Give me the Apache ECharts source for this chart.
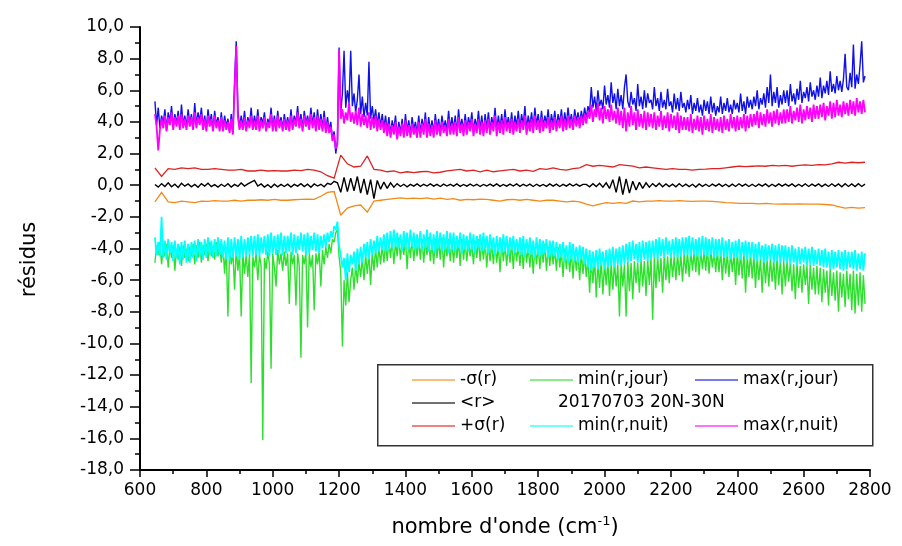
<!DOCTYPE html>
<html>
<head>
<meta charset="utf-8">
<script src="https://cdn.jsdelivr.net/npm/echarts@6/dist/echarts.min.js"></script>
<style>html,body{margin:0;padding:0;background:#fff}#c{width:902px;height:546px}</style>
</head>
<body>
<div id="c"></div>
<script>
// Sampling grid (wavenumber, cm-1)
const WN_START = 645;
const STEP_FINE = 5;    // min/max envelopes
const STEP_MID = 10;    // mean residual
const STEP_COARSE = 20; // sigma series

const xTicks = [600, 800, 1000, 1200, 1400, 1600, 1800, 2000, 2200, 2400, 2600, 2800];
const yTicks = [-18, -16, -14, -12, -10, -8, -6, -4, -2, 0, 2, 4, 6, 8, 10];

const maxJour = [
 5.3,3.8,4.9,3.6,4.4,3.9,4.8,3.5,4.6,4.0,5.0,3.7,4.5,3.9,4.7,3.6,5.1,3.8,4.4,3.7,
 4.8,3.9,4.5,3.6,5.2,3.8,4.6,4.0,4.9,3.7,4.4,3.6,4.8,3.9,4.5,3.5,4.7,3.8,4.3,3.6,
 4.6,3.5,4.4,3.7,4.2,3.4,4.5,3.3,6.5,9.1,4.8,3.6,4.4,3.7,4.7,3.5,4.3,3.8,4.9,3.6,
 4.4,3.7,4.8,3.6,4.3,3.9,4.6,3.5,4.2,3.8,4.9,3.6,4.4,3.5,4.7,3.8,4.3,3.6,4.5,3.7,
 4.3,3.6,4.8,3.7,4.4,3.9,5.0,3.8,4.5,3.6,4.7,3.9,4.4,3.7,4.9,3.8,4.6,3.5,4.8,3.7,
 4.5,3.6,4.7,3.4,4.3,3.5,4.0,2.9,3.4,2.0,2.8,8.7,4.6,5.8,8.5,4.9,6.0,5.2,8.5,5.0,
 5.8,4.6,5.4,7.0,4.5,5.6,4.3,5.2,4.4,7.8,4.2,5.0,4.0,4.8,3.8,4.6,3.7,4.5,3.6,4.4,
 3.4,4.3,3.2,4.1,3.5,4.4,3.1,4.0,3.3,4.2,3.2,4.5,3.4,4.1,3.2,4.3,3.5,4.0,3.3,4.4,
 3.3,4.2,3.5,4.6,3.2,4.3,3.4,4.1,3.3,4.5,3.5,4.2,3.3,4.4,3.6,4.1,3.4,4.7,3.5,4.3,
 3.5,4.4,3.3,4.8,3.6,4.2,3.4,4.5,3.5,4.3,3.7,4.6,3.4,4.2,3.6,4.7,3.5,4.4,3.3,4.5,
 3.6,4.6,3.5,4.3,3.7,4.9,3.4,4.4,3.6,4.5,3.5,4.8,3.7,4.3,3.6,4.6,3.5,4.4,3.7,4.7,
 3.6,4.5,3.8,5.0,3.5,4.4,3.7,4.6,3.6,4.9,3.8,4.5,3.6,4.7,3.7,4.4,3.9,4.8,3.6,4.5,
 3.8,4.7,3.6,4.5,3.9,4.8,3.7,4.6,3.8,4.9,3.9,4.5,3.7,4.8,4.0,4.6,3.9,4.7,4.1,4.9,
 4.2,5.0,4.6,6.2,4.9,5.6,4.7,6.0,5.0,5.4,4.8,6.3,5.1,5.7,4.9,6.5,5.2,5.8,4.8,6.1,
 5.0,5.7,4.8,6.2,7.0,5.3,4.9,5.9,5.1,5.5,4.7,6.4,5.0,5.6,4.8,6.0,4.9,5.8,5.2,5.4,
 4.8,6.2,5.0,5.5,4.7,5.9,4.9,5.4,4.8,6.1,5.0,5.3,4.6,5.8,4.8,5.5,4.7,5.9,4.9,5.2,
 4.6,5.4,4.8,5.7,4.5,5.2,4.7,5.5,4.6,5.1,4.4,5.4,4.7,5.3,4.5,5.6,4.6,5.2,4.4,5.0,
 4.6,5.6,4.5,5.2,4.7,5.5,4.6,5.1,4.5,5.4,4.8,5.2,4.6,5.8,4.7,5.3,4.5,5.6,4.9,5.4,
 4.8,5.6,5.0,6.0,4.8,5.5,5.1,5.8,4.9,6.2,5.2,7.0,5.0,5.9,5.2,6.2,4.9,5.7,5.1,6.0,
 5.2,6.0,5.0,6.4,5.3,5.8,5.1,6.1,5.4,6.6,5.2,5.9,5.5,6.2,5.3,6.5,5.6,6.0,5.4,6.3,
 5.6,6.8,5.5,6.3,5.8,6.6,5.7,7.2,5.9,6.4,5.8,6.9,6.0,6.6,5.9,6.7,8.3,6.2,6.0,7.1,
 6.2,8.9,6.1,7.0,6.4,7.6,9.1,6.5,6.9
];

const maxNuit = [
 4.5,3.7,2.2,3.5,4.2,3.6,4.4,3.4,4.3,3.8,4.6,3.5,4.3,3.7,4.4,3.5,4.5,3.6,4.2,3.5,
 4.4,3.7,4.3,3.5,4.6,3.6,4.3,3.8,4.5,3.5,4.2,3.4,4.4,3.7,4.2,3.4,4.4,3.6,4.1,3.4,
 4.3,3.4,4.1,3.5,4.0,3.3,4.2,3.2,6.0,8.8,4.3,3.5,4.1,3.5,4.3,3.4,4.1,3.6,4.4,3.5,
 4.1,3.5,4.4,3.4,4.1,3.6,4.3,3.4,4.0,3.6,4.5,3.4,4.2,3.4,4.4,3.6,4.1,3.4,4.2,3.5,
 4.1,3.4,4.4,3.5,4.2,3.7,4.6,3.6,4.2,3.4,4.4,3.7,4.2,3.5,4.5,3.6,4.3,3.4,4.4,3.5,
 4.2,3.4,4.3,3.3,4.0,3.3,3.7,2.8,3.2,2.3,2.6,8.6,4.2,4.8,3.9,4.6,4.1,5.2,4.0,4.6,
 3.9,4.7,3.8,4.9,3.7,4.5,3.8,4.4,3.6,4.6,3.5,4.3,3.6,4.4,3.4,4.2,3.5,4.1,3.3,4.0,
 3.1,3.9,3.0,3.8,3.2,4.0,2.9,3.7,3.1,3.9,3.0,4.1,3.1,3.8,3.0,3.9,3.2,3.7,3.0,4.0,
 3.0,3.9,3.2,4.2,3.0,3.9,3.1,3.8,3.0,4.1,3.2,3.9,3.1,4.0,3.3,3.8,3.1,4.2,3.2,3.9,
 3.2,4.0,3.1,4.3,3.3,3.9,3.1,4.1,3.2,4.0,3.4,4.2,3.1,3.9,3.3,4.2,3.2,4.0,3.1,4.1,
 3.3,4.2,3.2,4.0,3.4,4.4,3.1,4.0,3.3,4.1,3.2,4.3,3.4,4.0,3.3,4.2,3.2,4.0,3.4,4.2,
 3.3,4.1,3.5,4.4,3.2,4.0,3.4,4.2,3.3,4.4,3.5,4.1,3.3,4.3,3.4,4.0,3.6,4.3,3.3,4.1,
 3.5,4.3,3.4,4.1,3.6,4.4,3.4,4.2,3.5,4.4,3.6,4.2,3.5,4.4,3.7,4.3,3.6,4.4,3.8,4.5,
 3.9,4.7,4.2,5.1,4.0,4.8,4.3,5.2,4.1,4.9,3.9,5.0,4.2,4.8,4.0,5.1,4.1,4.7,3.9,4.9,
 3.8,4.7,3.6,4.9,3.4,4.6,3.7,5.0,3.8,4.6,3.5,4.8,3.7,4.5,3.6,4.7,3.5,4.6,3.7,4.5,
 3.6,4.6,3.5,4.4,3.7,4.7,3.5,4.4,3.6,4.6,3.4,4.5,3.6,4.4,3.5,4.6,3.3,4.4,3.5,4.3,
 3.5,4.3,3.4,4.5,3.3,4.2,3.5,4.4,3.4,4.3,3.2,4.4,3.5,4.2,3.4,4.5,3.3,4.3,3.5,4.2,
 3.4,4.3,3.3,4.4,3.5,4.2,3.4,4.5,3.6,4.3,3.4,4.4,3.5,4.3,3.6,4.5,3.4,4.4,3.6,4.5,
 3.7,4.5,3.8,4.7,3.6,4.6,3.8,4.5,3.7,4.8,3.9,4.6,3.7,4.7,3.9,4.8,3.8,4.6,3.9,4.8,
 3.9,4.8,4.0,5.0,3.9,4.7,4.1,4.9,4.0,5.1,3.9,4.8,4.1,5.0,4.2,4.9,4.0,5.1,4.2,5.0,
 4.2,5.1,4.3,5.2,4.1,5.0,4.4,5.3,4.2,5.2,4.3,5.4,4.4,5.1,4.3,5.3,4.5,5.2,4.4,5.4,
 4.5,5.3,4.4,5.5,4.6,5.3,4.5,5.4,4.6
];

const minJour = [
 -4.9,-3.8,-4.4,-3.6,-5.0,-4.0,-4.5,-3.7,-5.2,-3.9,-4.6,-3.8,-5.4,-4.1,-4.7,-3.9,-5.1,-3.8,-4.6,-4.0,
 -4.8,-3.9,-4.5,-3.7,-5.0,-3.8,-4.6,-3.6,-4.9,-3.8,-4.4,-3.7,-4.8,-3.6,-4.5,-3.8,-4.7,-3.6,-4.5,-3.7,
 -4.9,-3.8,-5.6,-3.9,-8.3,-4.1,-5.0,-4.2,-6.6,-4.0,-5.4,-4.3,-8.3,-4.2,-5.6,-4.4,-5.8,-4.3,-12.5,-4.5,
 -5.2,-4.3,-6.0,-4.4,-5.1,-16.1,-4.6,-5.3,-4.2,-5.0,-11.6,-4.3,-5.2,-6.4,-4.1,-5.0,-4.3,-5.4,-4.2,-5.1,
 -4.3,-7.5,-4.2,-5.0,-4.4,-7.6,-4.3,-5.1,-10.9,-4.4,-5.0,-4.2,-9.0,-4.3,-5.2,-4.4,-7.9,-4.3,-5.0,-4.2,
 -6.4,-4.1,-5.0,-3.9,-4.6,-3.7,-4.3,-3.4,-3.6,-3.0,-2.8,-4.5,-5.5,-10.2,-6.0,-7.6,-5.5,-7.4,-6.0,-5.2,
 -6.6,-5.0,-6.2,-4.8,-5.8,-4.6,-6.0,-4.4,-5.6,-4.3,-6.3,-4.2,-5.4,-4.0,-5.2,-3.9,-5.0,-3.8,-4.9,-3.7,
 -4.8,-3.5,-4.6,-3.4,-5.0,-3.6,-4.5,-3.3,-4.7,-3.5,-4.4,-3.4,-5.3,-3.5,-4.6,-3.3,-4.8,-3.6,-4.5,-3.4,
 -4.7,-3.4,-4.9,-3.5,-4.4,-3.3,-4.8,-3.6,-5.0,-3.4,-4.6,-3.5,-4.7,-3.3,-5.2,-3.6,-4.5,-3.4,-4.8,-3.5,
 -4.9,-3.6,-4.6,-3.5,-5.1,-3.4,-4.7,-3.6,-4.8,-3.5,-4.5,-3.7,-5.0,-3.5,-4.6,-3.4,-4.8,-3.6,-4.7,-3.5,
 -5.2,-3.7,-4.8,-3.6,-5.0,-3.7,-4.9,-3.8,-5.5,-3.6,-4.8,-3.7,-5.1,-3.8,-4.9,-3.6,-5.3,-3.7,-4.8,-3.8,
 -5.1,-3.8,-5.3,-3.7,-4.9,-3.9,-5.2,-3.8,-5.6,-3.9,-5.0,-3.8,-5.3,-3.9,-4.9,-3.7,-5.4,-3.9,-5.1,-3.8,
 -5.0,-4.0,-5.4,-3.9,-5.2,-4.1,-5.8,-4.0,-5.3,-4.2,-5.5,-4.1,-5.9,-4.2,-5.4,-4.3,-6.0,-4.2,-5.6,-4.4,
 -5.8,-4.5,-6.8,-4.7,-6.2,-4.6,-7.1,-4.8,-6.5,-4.7,-6.9,-4.9,-6.3,-4.8,-7.0,-4.9,-6.6,-4.8,-6.4,-5.0,
 -8.3,-4.9,-6.4,-5.0,-8.3,-4.8,-6.7,-4.9,-7.2,-4.8,-6.2,-4.9,-6.8,-4.7,-6.4,-4.8,-7.0,-4.7,-6.3,-4.6,
 -8.5,-4.6,-6.5,-4.5,-6.1,-4.6,-6.8,-4.4,-6.0,-4.5,-6.2,-4.4,-5.8,-4.5,-6.0,-4.3,-5.7,-4.4,-6.1,-4.3,
 -5.6,-4.2,-5.8,-4.1,-5.4,-4.2,-5.5,-4.0,-5.7,-4.1,-5.3,-4.2,-5.4,-4.0,-5.6,-4.1,-5.2,-4.2,-5.5,-4.1,
 -5.5,-4.1,-6.0,-4.2,-5.6,-4.3,-5.8,-4.2,-5.5,-4.3,-6.3,-4.2,-5.7,-4.3,-5.9,-4.2,-6.8,-4.4,-5.8,-4.3,
 -5.9,-4.4,-6.5,-4.5,-6.0,-4.6,-6.8,-4.5,-6.2,-4.7,-6.4,-4.6,-6.1,-4.7,-6.6,-4.5,-6.3,-4.7,-6.9,-4.8,
 -6.4,-4.8,-6.1,-4.9,-6.7,-5.0,-7.2,-4.9,-6.5,-5.1,-6.8,-5.0,-6.3,-5.1,-7.5,-5.0,-6.6,-5.2,-6.9,-5.1,
 -6.9,-5.2,-7.4,-5.3,-6.8,-5.4,-7.6,-5.3,-7.0,-5.5,-7.3,-5.4,-8.0,-5.5,-7.1,-5.6,-7.7,-5.4,-7.2,-5.6,
 -7.9,-5.4,-8.1,-5.6,-7.6,-5.5,-8.0,-5.7,-7.5
];

const minNuit = [
 -3.3,-4.4,-3.6,-4.5,-2.0,-4.6,-3.5,-4.7,-3.4,-4.3,-3.6,-4.8,-3.5,-4.6,-3.7,-5.0,-3.6,-4.7,-3.5,-4.9,
 -3.7,-4.9,-3.6,-4.6,-3.5,-4.8,-3.4,-4.5,-3.6,-4.7,-3.4,-4.6,-3.3,-4.4,-3.5,-4.6,-3.4,-4.5,-3.3,-4.4,
 -3.4,-4.6,-3.5,-4.7,-3.3,-4.8,-3.4,-4.6,-3.3,-4.5,-3.4,-4.7,-3.2,-4.6,-3.4,-4.5,-3.3,-4.4,-3.2,-4.5,
 -3.2,-4.4,-3.1,-4.5,-3.3,-4.3,-3.2,-4.4,-3.1,-4.5,-3.0,-4.3,-3.2,-4.4,-3.1,-4.3,-3.0,-4.4,-3.2,-4.3,
 -3.2,-4.2,-3.0,-4.4,-3.1,-4.3,-3.2,-4.1,-3.0,-4.2,-3.1,-4.4,-3.0,-4.3,-3.2,-4.1,-3.0,-4.2,-3.1,-4.3,
 -3.2,-4.0,-3.1,-3.9,-3.0,-3.6,-2.9,-3.3,-2.6,-2.8,-2.3,-3.8,-4.4,-5.2,-4.6,-6.0,-4.3,-5.5,-4.4,-5.0,
 -4.2,-5.4,-4.0,-5.0,-3.9,-4.9,-3.7,-4.6,-3.6,-4.7,-3.4,-4.4,-3.5,-4.3,-3.2,-4.2,-3.3,-4.1,-3.1,-4.2,
 -3.0,-4.1,-2.9,-4.0,-2.8,-3.9,-3.0,-4.0,-3.1,-4.2,-2.9,-4.0,-3.0,-4.1,-2.8,-3.9,-3.0,-4.1,-3.1,-4.0,
 -2.9,-4.1,-3.1,-4.0,-2.8,-4.2,-3.0,-4.1,-3.1,-4.3,-2.9,-4.0,-3.0,-4.2,-3.1,-4.1,-2.9,-4.3,-3.0,-4.1,
 -3.0,-4.2,-3.2,-4.0,-3.0,-4.3,-3.1,-4.1,-3.2,-4.2,-3.0,-4.1,-3.1,-4.3,-3.2,-4.0,-3.1,-4.2,-3.0,-4.1,
 -3.2,-4.3,-3.1,-4.1,-3.3,-4.4,-3.2,-4.2,-3.3,-4.3,-3.1,-4.2,-3.2,-4.4,-3.3,-4.1,-3.2,-4.3,-3.4,-4.2,
 -3.3,-4.4,-3.2,-4.5,-3.4,-4.3,-3.3,-4.4,-3.5,-4.6,-3.3,-4.4,-3.4,-4.5,-3.5,-4.3,-3.4,-4.6,-3.5,-4.5,
 -3.5,-4.5,-3.6,-4.7,-3.7,-4.6,-3.6,-4.8,-3.8,-4.9,-3.6,-4.7,-3.7,-4.8,-3.9,-4.9,-3.8,-4.7,-3.9,-5.0,
 -4.0,-5.2,-4.1,-5.4,-4.2,-5.2,-4.1,-5.3,-4.0,-5.1,-4.2,-5.3,-4.1,-5.2,-4.0,-5.1,-3.9,-5.2,-4.0,-5.0,
 -3.9,-5.1,-3.8,-5.0,-3.7,-4.9,-3.6,-4.8,-3.5,-4.7,-3.7,-4.9,-3.6,-4.8,-3.5,-4.7,-3.6,-4.8,-3.5,-4.7,
 -3.5,-4.6,-3.4,-4.7,-3.3,-4.5,-3.4,-4.6,-3.3,-4.4,-3.5,-4.6,-3.4,-4.5,-3.3,-4.6,-3.4,-4.5,-3.3,-4.4,
 -3.3,-4.4,-3.2,-4.5,-3.3,-4.4,-3.4,-4.5,-3.3,-4.5,-3.2,-4.4,-3.3,-4.5,-3.4,-4.4,-3.3,-4.6,-3.4,-4.5,
 -3.4,-4.5,-3.3,-4.6,-3.5,-4.5,-3.4,-4.7,-3.6,-4.6,-3.5,-4.6,-3.4,-4.7,-3.6,-4.5,-3.5,-4.7,-3.6,-4.6,
 -3.6,-4.7,-3.7,-4.8,-3.6,-4.7,-3.8,-4.9,-3.7,-4.8,-3.8,-4.7,-3.7,-4.9,-3.8,-4.8,-3.7,-4.9,-3.8,-4.8,
 -3.8,-4.9,-3.9,-5.0,-3.8,-4.9,-4.0,-5.1,-3.9,-5.0,-4.0,-4.9,-3.9,-5.1,-4.0,-5.0,-3.9,-5.1,-4.1,-5.0,
 -4.0,-5.1,-4.1,-5.2,-4.0,-5.2,-4.2,-5.3,-4.1,-5.3,-4.2,-5.2,-4.1,-5.3,-4.2,-5.4,-4.1,-5.3,-4.2,-5.2,
 -4.2,-5.3,-4.1,-5.4,-4.3,-5.3,-4.2,-5.4,-4.3
];

const meanR = [
 0.05,-0.12,0.10,-0.08,0.15,-0.10,0.06,-0.14,0.12,-0.06,
 0.08,-0.10,0.05,-0.13,0.10,-0.05,0.12,-0.09,0.04,-0.12,
 0.06,-0.08,0.10,-0.11,0.05,-0.07,0.14,-0.05,0.08,0.20,
 0.30,-0.05,0.08,-0.12,0.04,-0.15,0.06,-0.10,0.05,-0.08,
 0.07,-0.12,0.05,-0.06,0.10,-0.09,0.06,-0.13,0.08,-0.05,
 0.06,-0.10,0.12,0.05,0.25,0.15,-0.45,0.50,-0.40,0.45,
 -0.35,0.55,-0.50,0.40,-0.60,0.35,-0.85,0.30,-0.25,0.20,
 -0.20,0.15,-0.12,0.10,-0.08,0.06,-0.10,0.05,-0.06,0.08,
 -0.07,0.06,-0.05,0.08,-0.06,0.05,-0.08,0.07,-0.05,0.06,
 -0.06,0.08,-0.07,0.05,-0.06,0.07,-0.05,0.06,-0.08,0.05,
 -0.05,0.07,-0.06,0.08,-0.07,0.05,-0.06,0.07,-0.05,0.08,
 -0.07,0.06,-0.05,0.07,-0.08,0.06,-0.06,0.05,-0.07,0.08,
 -0.06,0.07,-0.08,0.05,-0.06,0.08,-0.05,0.07,-0.06,0.05,
 0.05,-0.10,0.10,-0.08,0.12,-0.12,0.15,-0.20,0.35,-0.45,
 0.55,-0.60,0.40,-0.50,0.25,-0.30,0.18,-0.20,0.15,-0.12,
 0.10,-0.08,0.12,-0.10,0.08,-0.09,0.07,-0.10,0.09,-0.08,
 0.07,-0.09,0.06,-0.12,0.08,-0.07,0.06,-0.08,0.07,-0.06,
 0.08,-0.07,0.06,-0.09,0.07,-0.08,0.09,-0.06,0.07,-0.08,
 0.06,-0.08,0.07,-0.06,0.08,-0.09,0.06,-0.07,0.08,-0.06,
 0.07,-0.06,0.08,-0.09,0.06,-0.07,0.09,-0.08,0.07,-0.06,
 0.08,-0.09,0.07,-0.08,0.09,-0.07,0.08,-0.10,0.09,-0.08,
 0.08,-0.09,0.10,-0.08,0.07
];

const plusSigma = [
 1.1,0.55,1.05,1.0,1.1,
 1.05,1.1,1.0,1.0,1.05,
 1.0,0.95,0.95,1.0,0.9,
 0.9,0.95,0.9,0.92,0.9,
 0.9,0.95,0.92,1.0,0.95,
 0.85,0.6,0.45,1.9,1.35,
 1.15,1.2,1.85,1.0,0.95,
 0.85,0.9,0.78,0.85,0.8,
 0.85,0.88,0.78,0.82,0.9,
 0.95,1.0,0.9,0.95,0.85,
 0.95,0.85,0.9,0.95,1.0,
 0.9,0.95,0.88,1.05,1.0,
 1.1,1.0,0.95,1.05,1.1,
 1.3,1.2,1.25,1.2,1.15,
 1.3,1.25,1.2,1.1,1.15,
 1.1,1.05,1.0,1.05,1.0,
 1.0,0.95,1.0,1.02,1.05,
 1.05,1.1,1.15,1.2,1.18,
 1.2,1.22,1.2,1.25,1.22,
 1.25,1.2,1.25,1.28,1.25,
 1.3,1.28,1.35,1.45,1.4,
 1.45,1.42,1.45
];

const minusSigma = [
 -1.05,-0.45,-1.05,-1.1,-1.0,
 -1.05,-1.1,-1.0,-1.02,-0.98,
 -1.0,-1.0,-0.95,-1.0,-0.95,
 -0.95,-0.92,-0.95,-0.9,-0.95,
 -0.95,-0.92,-0.9,-0.88,-0.9,
 -0.7,-0.45,-0.4,-1.9,-1.45,
 -1.3,-1.25,-1.7,-1.0,-0.95,
 -0.9,-0.85,-0.8,-0.85,-0.82,
 -0.85,-0.8,-0.88,-0.82,-0.9,
 -0.85,-0.95,-0.9,-0.92,-0.88,
 -0.9,-0.95,-1.0,-0.92,-0.9,
 -0.95,-0.9,-0.95,-1.0,-0.95,
 -0.95,-1.0,-1.05,-1.0,-1.05,
 -1.2,-1.3,-1.2,-1.1,-1.15,
 -1.1,-1.15,-1.0,-1.05,-1.0,
 -1.0,-0.98,-1.0,-1.0,-0.98,
 -1.0,-1.02,-1.0,-1.0,-1.02,
 -1.05,-1.1,-1.12,-1.15,-1.15,
 -1.15,-1.18,-1.15,-1.18,-1.2,
 -1.18,-1.2,-1.18,-1.2,-1.2,
 -1.2,-1.22,-1.25,-1.35,-1.45,
 -1.4,-1.45,-1.42
];

function pairs(vals, step) {
  return vals.map((v, i) => [WN_START + i * step, v]);
}

const FONT = 'DejaVu Sans';
const chart = echarts.init(document.getElementById('c'), null, {renderer: 'canvas'});

function line(name, color, vals, step, width) {
  return {
    name: name, type: 'line', data: pairs(vals, step), showSymbol: false, symbol: 'none',
    color: color, lineStyle: {color: color, width: width || 1, join: 'miter', miterLimit: 2}, animation: false,
    emphasis: {disabled: true}
  };
}

const legendCommon = {
  orient: 'vertical', icon: 'rect', itemWidth: 43, itemHeight: 1.5,
  selectedMode: false, padding: 0,
  itemStyle: {opacity: 0.75},
  textStyle: {fontFamily: FONT, fontSize: 17, lineHeight: 18, color: '#000'}
};

chart.setOption({
  backgroundColor: '#fff',
  animation: false,
  grid: {left: 140, right: 32, top: 27, bottom: 76},
  xAxis: {
    type: 'value', min: xTicks[0], max: xTicks[xTicks.length - 1], interval: 200,
    axisLine: {show: true, onZero: false, lineStyle: {color: '#000', width: 2}},
    axisTick: {show: true, length: 7, lineStyle: {color: '#000', width: 1.5}},
    minorTick: {show: true, splitNumber: 2, length: 4, lineStyle: {color: '#000', width: 1.5}},
    splitLine: {show: false},
    axisLabel: {fontFamily: FONT, fontSize: 17, color: '#000', margin: 12, formatter: v => String(v)},
    name: "nombre d'onde (cm{sup|-1})",
    nameLocation: 'middle', nameGap: 45,
    nameTextStyle: {fontFamily: FONT, fontSize: 21, color: '#000', lineHeight: 26,
      rich: {sup: {fontFamily: FONT, fontSize: 13, lineHeight: 13, verticalAlign: 'top', color: '#000'}}}
  },
  yAxis: {
    type: 'value', min: yTicks[0], max: yTicks[yTicks.length - 1], interval: 2,
    axisLine: {show: true, onZero: false, lineStyle: {color: '#000', width: 2}},
    axisTick: {show: true, length: 10, lineStyle: {color: '#000', width: 1.5}},
    minorTick: {show: true, splitNumber: 2, length: 5, lineStyle: {color: '#000', width: 1.5}},
    splitLine: {show: false},
    axisLabel: {fontFamily: FONT, fontSize: 17, color: '#000', margin: 16,
      formatter: v => v.toFixed(1).replace('.', ',')},
    name: 'résidus', nameLocation: 'middle', nameGap: 100,
    nameTextStyle: {fontFamily: FONT, fontSize: 21, color: '#000', padding: [0, 22, 0, 0]}
  },
  legend: [
    Object.assign({}, legendCommon, {left: 412, top: 371, itemGap: 5, data: ['-σ(r)', '<r>', '+σ(r)']}),
    Object.assign({}, legendCommon, {left: 530, top: 371, itemGap: 28, data: ['min(r,jour)', 'min(r,nuit)']}),
    Object.assign({}, legendCommon, {left: 695, top: 371, itemGap: 28, data: ['max(r,jour)', 'max(r,nuit)']})
  ],
  graphic: [
    {type: 'rect', left: 377, top: 364, shape: {width: 495, height: 81},
     style: {fill: 'rgba(255,255,255,0)', stroke: '#333', lineWidth: 1.5}, z: 100},
    {type: 'text', left: 558, top: 394,
     style: {text: '20170703 20N-30N', font: '17px "DejaVu Sans"', fill: '#000'}, z: 101}
  ],
  series: [
    line('min(r,jour)', '#2ee02e', minJour, STEP_FINE, 1.4),
    line('min(r,nuit)', '#00ffff', minNuit, STEP_FINE, 1.8),
    line('max(r,jour)', '#1010e8', maxJour, STEP_FINE, 1.4),
    line('max(r,nuit)', '#ff00ff', maxNuit, STEP_FINE, 1.8),
    line('-σ(r)', '#f28a18', minusSigma, STEP_COARSE, 1.3),
    line('<r>', '#000000', meanR, STEP_MID, 1.4),
    line('+σ(r)', '#dd2222', plusSigma, STEP_COARSE, 1.3)
  ]
});
</script>
</body>
</html>
